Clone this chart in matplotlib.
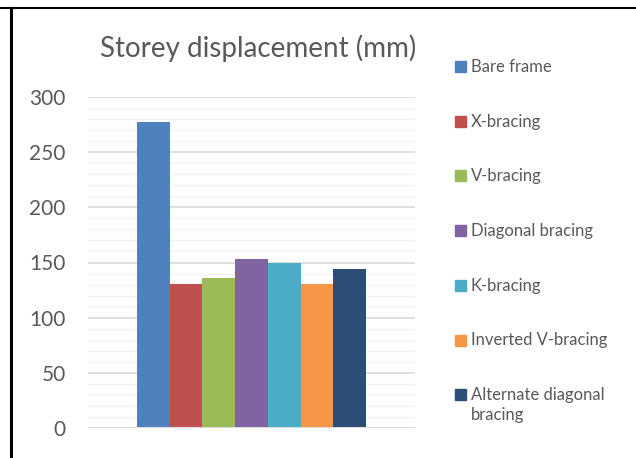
import matplotlib.pyplot as plt
from matplotlib.patches import Rectangle
from matplotlib.lines import Line2D

plt.rcParams['font.family'] = ['Lato', 'DejaVu Sans']

labels = ['Bare frame', 'X-bracing', 'V-bracing', 'Diagonal bracing',
          'K-bracing', 'Inverted V-bracing', 'Alternate diagonal\nbracing']
values = [277, 130.5, 136, 153, 149.5, 130.5, 144]
colors = ['#4F81BD', '#C0504D', '#9BBB59', '#8064A2',
          '#4BACC6', '#F79646', '#2C4D75']
yticks = [0, 50, 100, 150, 200, 250, 300]

text_col = '#595959'

fig = plt.figure(figsize=(6.36, 4.58), dpi=100)
ax = fig.add_axes([88/636, 1-428/458, (415-88)/636, (428-97)/458])

# gridlines: minor every 10, major every 50
for v in range(10, 301, 10):
    if v % 50 == 0:
        ax.axhline(v, color='#d9d9d9', lw=1.2, zorder=0)
    else:
        ax.axhline(v, color='#f2f2f2', lw=1.0, zorder=0)
ax.axhline(0, color='#d9d9d9', lw=1.5, zorder=3)

x = list(range(len(values)))
ax.bar(x, values, width=1.0, color=colors, zorder=2)

ax.set_xlim(-2, 8)
ax.set_ylim(0, 300)
ax.set_yticks(yticks)
ax.set_yticklabels([str(t) for t in yticks], fontsize=15, color=text_col)
ax.tick_params(axis='y', length=0, pad=16)
ax.set_xticks([])
for s in ax.spines.values():
    s.set_visible(False)

fig.text(258/636, 1-57/458, 'Storey displacement (mm)', fontsize=20,
         color=text_col, ha='center', va='baseline')

# legend drawn by hand so the squares sit on the first line of each label
y0 = 66.5
step = 54.7
for i, (lab, c) in enumerate(zip(labels, colors)):
    yc = y0 + i * step
    fig.add_artist(Rectangle((455/636, 1-(yc+5.5)/458), 11/636, 11/458,
                             transform=fig.transFigure, color=c))
    for j, line in enumerate(lab.split('\n')):
        fig.text(471/636, 1-(yc+5.5+j*19.5)/458, line, fontsize=12,
                 color=text_col, ha='left', va='baseline')

# frame lines of the surrounding box
fig.add_artist(Line2D([0, 1], [1-7.5/458, 1-7.5/458], color='black', lw=1.5,
                      transform=fig.transFigure))
fig.add_artist(Line2D([11/636, 11/636], [0, 1-7.5/458], color='black', lw=2.2,
                      transform=fig.transFigure))

plt.savefig('out.png', dpi=100)
